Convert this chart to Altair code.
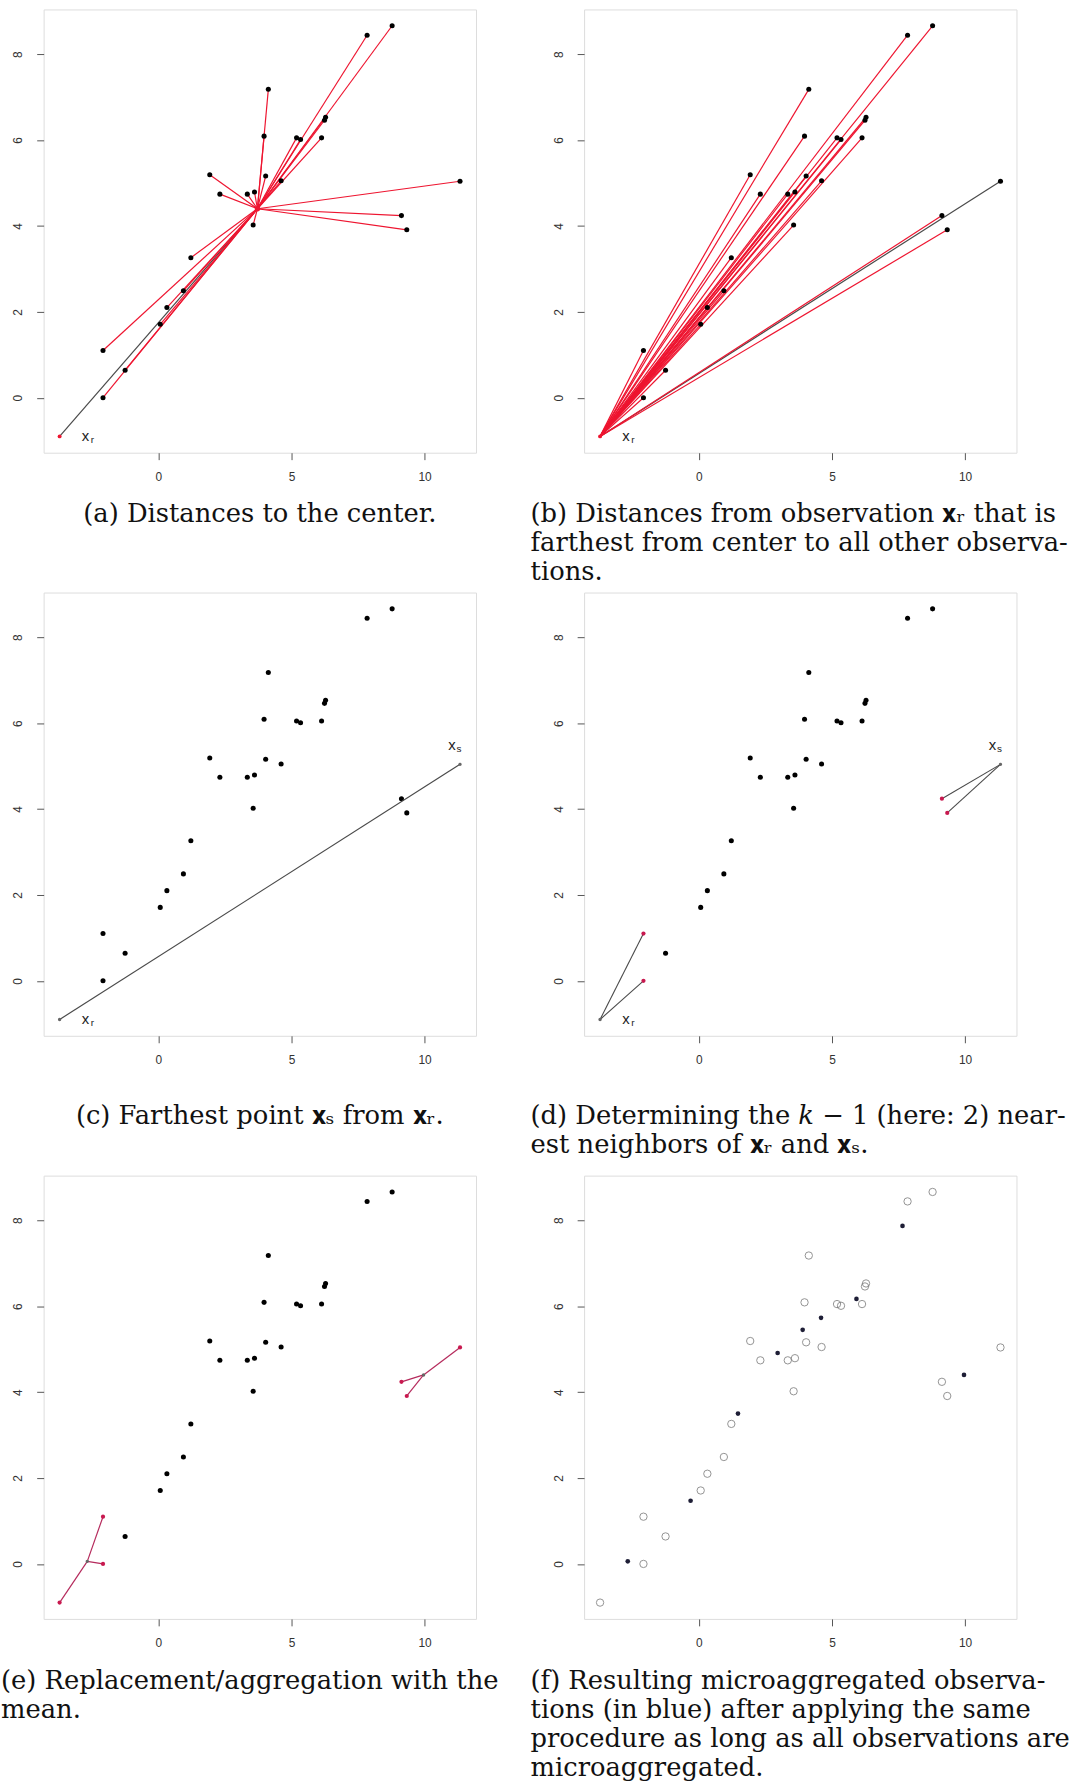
import altair as alt
import pandas as pd

# Observations (27 points); index 0 is x_r, index 1 is x_s
obs_x = [-3.71, 11.33, -2.08, -2.08, -1.25, 0.07, 0.32, 0.94, 1.22, 1.93,
         2.31, 3.34, 3.61, 3.56, 3.97, 4.03, 4.13, 4.61, 5.19, 5.34,
         6.13, 6.24, 6.28, 7.84, 8.78, 9.13, 9.33]
obs_y = [-0.90, 5.04, 1.10, 0.00, 0.64, 1.71, 2.10, 2.49, 3.26, 5.19,
         4.74, 4.74, 4.79, 4.02, 6.09, 5.16, 7.18, 5.05, 6.05, 6.01,
         6.05, 6.46, 6.53, 8.44, 8.66, 4.24, 3.91]

# Center of the data cloud
center_x = [3.72]
center_y = [4.40]

# Microaggregated values (group means, k = 3)
mean_x = [-2.67, -0.31, 1.47, 2.96, 3.90, 4.59, 5.92, 7.65, 9.96]
mean_y = [0.06, 1.47, 3.50, 4.91, 5.45, 5.73, 6.17, 7.87, 4.40]

XR, XS = 0, 1
XR_NEIGHBORS = [2, 3]
XS_NEIGHBORS = [25, 26]

X_DOMAIN = [-4.31, 11.93]
Y_DOMAIN = [-1.28, 9.04]
X_TICKS = [0, 5, 10]
Y_TICKS = [0, 2, 4, 6, 8]

W, H = 436, 447
SERIF = "DejaVu Serif"
SANS = "Liberation Sans"
RED = "#ee1530"
CRIMSON = "#c8194f"
GREY = "#4a4a4a"

obs = pd.DataFrame({"x": obs_x, "y": obs_y})

AX = dict(grid=False, domain=False, ticks=True, tickSize=7, tickColor="#555",
          tickWidth=1, labelColor="#333", labelFont=SANS, labelFontSize=12, title="")


def xq(field="x"):
    return alt.X(f"{field}:Q",
                 scale=alt.Scale(domain=X_DOMAIN, nice=False, zero=False),
                 axis=alt.Axis(values=X_TICKS, labelPadding=12, **AX))


def yq(field="y"):
    return alt.Y(f"{field}:Q",
                 scale=alt.Scale(domain=Y_DOMAIN, nice=False, zero=False),
                 axis=alt.Axis(values=Y_TICKS, labelAngle=270, labelAlign="center",
                               labelBaseline="bottom", labelPadding=12, **AX))


def pts(df, color, size=26):
    return alt.Chart(df).mark_circle(size=size, color=color, opacity=1).encode(x=xq(), y=yq())


def segs(df, color, width=1.2):
    return alt.Chart(df).mark_rule(color=color, strokeWidth=width).encode(
        x=xq(), y=yq(), x2="x2:Q", y2="y2:Q")


def sub_label(df, sub, dx, dy):
    main = alt.Chart(df).mark_text(text="x", font=SANS, fontSize=15, color="#222",
                                   dx=dx, dy=dy).encode(x=xq(), y=yq())
    small = alt.Chart(df).mark_text(text=sub, font=SANS, fontSize=10, color="#222",
                                    dx=dx + 7, dy=dy + 4).encode(x=xq(), y=yq())
    return main + small


def caption(lines, anchor, dx=0, offset=20):
    return alt.TitleParams(text=lines, orient="bottom", anchor=anchor, frame="group",
                           align="left" if anchor == "start" else "center",
                           font=SERIF, fontSize=26, fontWeight="normal", color="#111",
                           lineHeight=29, offset=offset, dx=dx)


def to_point(rows, tx, ty):
    d = rows[["x", "y"]].copy()
    d["x2"] = tx
    d["y2"] = ty
    return d


xr = obs.iloc[[XR]]
xs = obs.iloc[[XS]]
others = obs.drop(index=[XR])
rest = obs.drop(index=[XR, XS])
center = pd.DataFrame({"x": center_x, "y": center_y})
means = pd.DataFrame({"x": mean_x, "y": mean_y})

# (a) distances to the center
pa = alt.layer(
    segs(to_point(xr, center_x[0], center_y[0]), GREY),
    segs(to_point(others, center_x[0], center_y[0]), RED),
    pts(others, "black"),
    pts(xr, RED, 16),
    pts(center, RED, 30),
    sub_label(xr, "r", 26, 0),
).properties(width=W, height=H,
             title=caption(["(a) Distances to the center."], "middle", 0, 19))

# (b) distances from x_r to all other observations
pb = alt.layer(
    segs(to_point(xs, obs_x[XR], obs_y[XR]), GREY),
    segs(to_point(rest, obs_x[XR], obs_y[XR]), RED),
    pts(others, "black"),
    pts(xr, RED, 16),
    sub_label(xr, "r", 26, 0),
).properties(width=W, height=H,
             title=caption(["(b) Distances from observation \U0001D431\u1D63 that is",
                            "farthest from center to all other observa-",
                            "tions."], "start", -54, 19))

# (c) farthest point x_s from x_r
pc = alt.layer(
    pts(rest, "black"),
    segs(to_point(xs, obs_x[XR], obs_y[XR]), GREY),
    pts(pd.concat([xr, xs]), "#666", 12),
    sub_label(xr, "r", 26, 0),
    sub_label(xs, "s", -8, -19),
).properties(width=W, height=H,
             title=caption(["(c) Farthest point \U0001D431\u209B from \U0001D431\u1D63."],
                           "middle", 0, 38))

# (d) the k-1 nearest neighbours of x_r and x_s
nb_r = obs.iloc[XR_NEIGHBORS]
nb_s = obs.iloc[XS_NEIGHBORS]
plain_d = obs.drop(index=[XR, XS] + XR_NEIGHBORS + XS_NEIGHBORS)
pd_ = alt.layer(
    pts(plain_d, "black"),
    segs(pd.concat([to_point(nb_r, obs_x[XR], obs_y[XR]),
                    to_point(nb_s, obs_x[XS], obs_y[XS])]), GREY, 1.1),
    pts(pd.concat([nb_r, nb_s]), CRIMSON, 18),
    pts(pd.concat([xr, xs]), "#666", 12),
    sub_label(xr, "r", 26, 0),
    sub_label(xs, "s", -8, -19),
).properties(width=W, height=H,
             title=caption(["(d) Determining the \U0001D458 \u2212 1 (here: 2) near-",
                            "est neighbors of \U0001D431\u1D63 and \U0001D431\u209B."],
                           "start", -54, 38))

# (e) replacement of the two groups by their means
grp_r = obs.iloc[[XR] + XR_NEIGHBORS]
grp_s = obs.iloc[[XS] + XS_NEIGHBORS]
end_means = means.iloc[[0, len(means) - 1]]
pe = alt.layer(
    pts(plain_d, "black"),
    segs(pd.concat([to_point(grp_r, mean_x[0], mean_y[0]),
                    to_point(grp_s, mean_x[-1], mean_y[-1])]), "#b52a5c", 1.2),
    pts(pd.concat([grp_r, grp_s]), CRIMSON, 18),
    pts(end_means, "#666", 12),
).properties(width=W, height=H,
             title=caption(["(e) Replacement/aggregation with the",
                            "mean."], "start", -43, 20))

# (f) all observations microaggregated
pf = alt.layer(
    alt.Chart(obs).mark_point(shape="circle", filled=False, size=55, stroke="#666",
                              strokeWidth=1).encode(x=xq(), y=yq()),
    pts(means, "#1e1e36", 22),
).properties(width=W, height=H,
             title=caption(["(f) Resulting microaggregated observa-",
                            "tions (in blue) after applying the same",
                            "procedure as long as all observations are",
                            "microaggregated."], "start", -54, 20))

chart = alt.concat(pa, pb, pc, pd_, pe, pf, columns=2, bounds="flush",
                   spacing={"row": 141, "column": 109}).properties(
    padding={"left": 0, "top": 1, "right": 0, "bottom": 0}
).configure_view(stroke="#555", strokeWidth=1.3).configure(background="white")

chart.save("out.html", embed_options={"renderer": "svg", "actions": False})
